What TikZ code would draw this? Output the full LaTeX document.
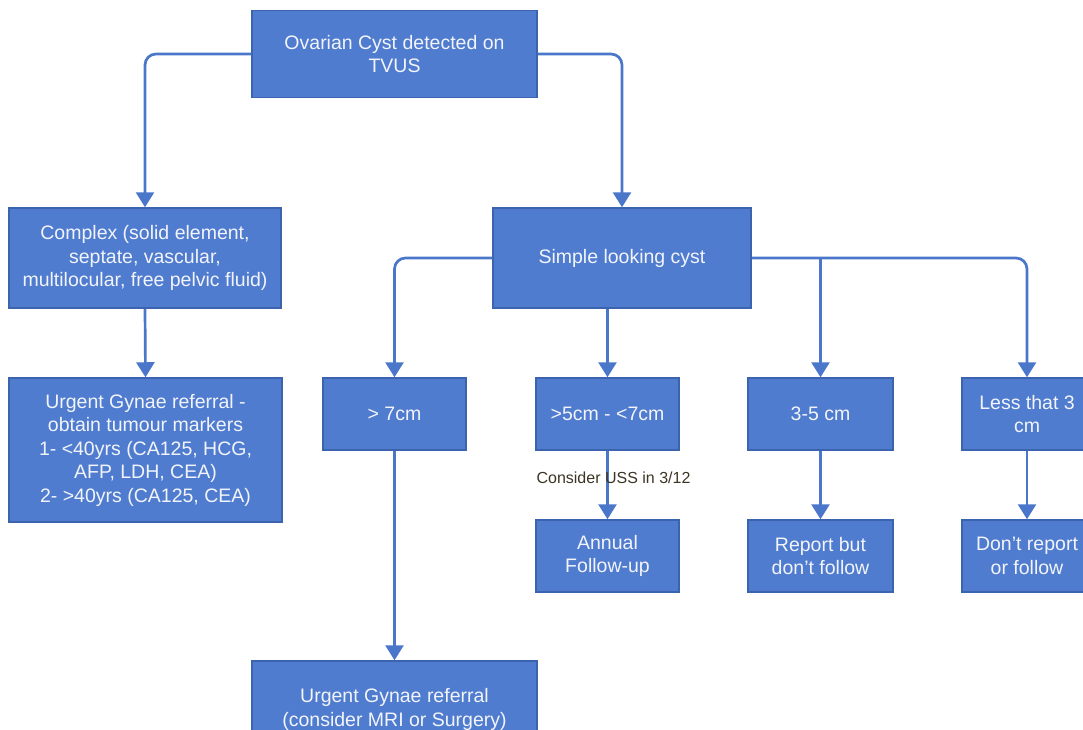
\documentclass[tikz,border=0pt]{standalone}
\usepackage{fontspec}
\setmainfont{Liberation Sans}
\usetikzlibrary{arrows.meta}
\definecolor{boxfill}{HTML}{4F7CCF}
\definecolor{boxline}{HTML}{3C63AD}
\definecolor{connc}{HTML}{4A77CA}
\definecolor{boxtext}{HTML}{F2F4FA}
\definecolor{labtext}{HTML}{3D3526}
\tikzset{
  box/.style={rectangle, fill=boxfill, draw=boxline, line width=1.5pt, text=boxtext,
    align=center, inner sep=0pt, font=\fontsize{19.5}{23.5}\selectfont},
  smallbox/.style={box, minimum width=143pt, minimum height=72pt},
  link/.style={draw=connc, line width=2.7pt, -{Triangle[width=18pt,length=15pt]}},
  roundlink/.style={link, rounded corners=11pt},
  lab/.style={text=labtext, inner sep=0pt, font=\fontsize{16}{19}\selectfont}
}
\begin{document}
\begin{tikzpicture}[x=1pt,y=-1pt]
\useasboundingbox (0,0) rectangle (1083,729);
\clip (0,0) rectangle (1083,729);
\fill[white] (0,0) rectangle (1083,729);

\node[box, minimum width=285pt, minimum height=87pt] (top) at (394.5,54) {Ovarian Cyst detected on\\TVUS};
\node[box, minimum width=272pt, minimum height=100pt] (complex) at (145,258) {Complex (solid element,\\septate, vascular,\\multilocular, free pelvic fluid)};
\node[box, minimum width=258pt, minimum height=100pt] (simple) at (622,258) {Simple looking cyst};
\node[box, minimum width=273pt, minimum height=144pt] (urgentA) at (145.5,450) {Urgent Gynae referral -\\obtain tumour markers\\1- <40yrs (CA125, HCG,\\AFP, LDH, CEA)\\2- >40yrs (CA125, CEA)};
\node[smallbox] (gtseven) at (394.5,414) {> 7cm};
\node[smallbox] (mid) at (607.5,414) {>5cm - <7cm};
\node[smallbox, minimum width=145pt] (threefive) at (820.5,414) {3-5 cm};
\node[smallbox, minimum width=130pt] (lessthree) at (1027,414) {Less that 3\\cm};
\node[smallbox] (annual) at (607.5,556) {Annual\\Follow-up};
\node[smallbox, minimum width=145pt] (report) at (820.5,556) {Report but\\don’t follow};
\node[smallbox, minimum width=130pt] (dont) at (1027,556) {Don’t report\\or follow};
\node[box, minimum width=285pt, minimum height=97pt] (urgentB) at (394.5,709.5) {Urgent Gynae referral\\(consider MRI or Surgery)};

\draw[roundlink] (top.west) -| (complex.north);
\draw[roundlink] (top.east) -| (simple.north);
\draw[link] (complex.south) -- (urgentA.north);
\draw[roundlink] (simple.west) -| (gtseven.north);
\draw[link] (simple.south -| mid.north) -- (mid.north);
\draw[link] (simple.east -| threefive.north) -- (threefive.north);
\draw[roundlink] (simple.east) -| (lessthree.north);
\draw[link] (gtseven.south) -- (urgentB.north);
\draw[link] (mid.south) -- (annual.north);
\draw[link] (threefive.south) -- (report.north);
\draw[link] (lessthree.south) -- (dont.north);

\node[lab] (uss) at (613.5,478) {Consider USS in 3/12};
\end{tikzpicture}
\end{document}
